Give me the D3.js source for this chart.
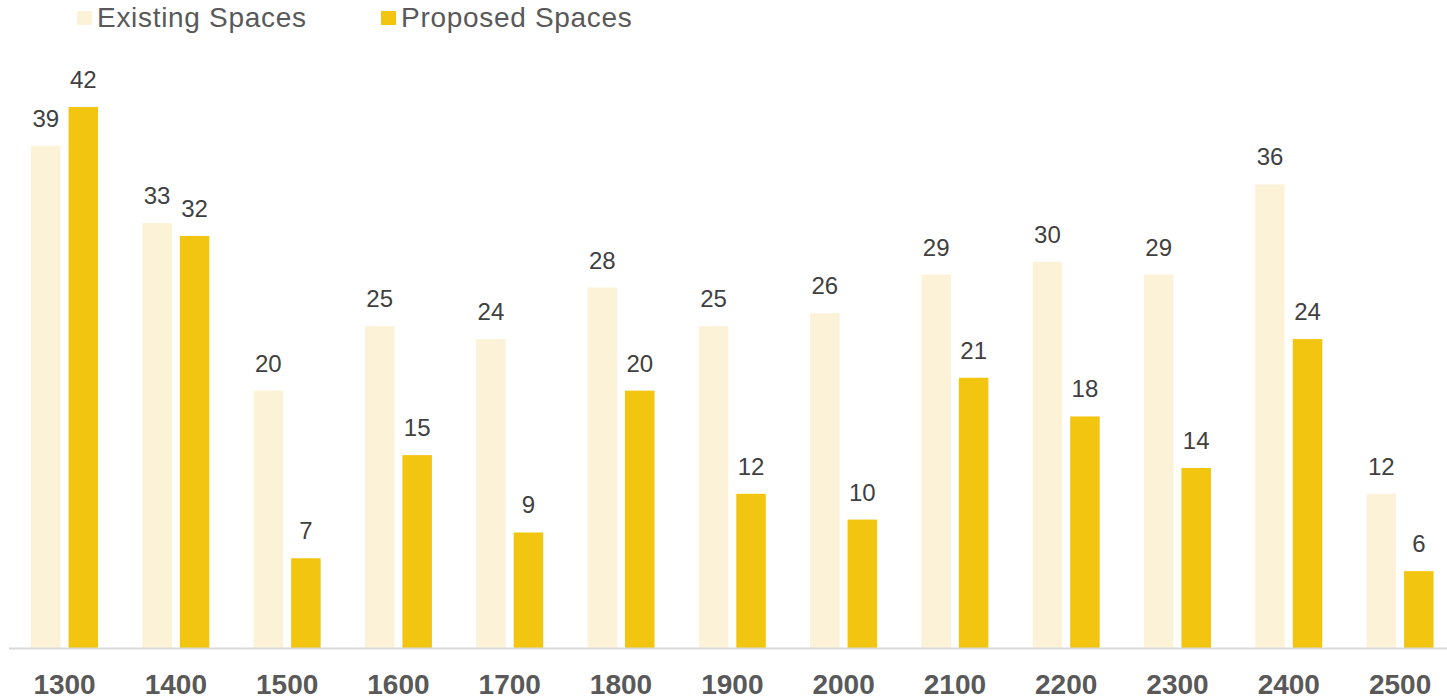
<!DOCTYPE html>
<html>
<head>
<meta charset="utf-8">
<script src="https://cdn.jsdelivr.net/npm/d3@7"></script>
<style>
  html, body { margin: 0; padding: 0; background: #ffffff; }
  svg { display: block; font-family: "Liberation Sans", Arial, sans-serif; }
</style>
</head>
<body>
<svg id="chart" width="1447" height="700"></svg>
<script>
// Floor numbers along the x axis
const categories = ["1300", "1400", "1500", "1600", "1700", "1800", "1900",
                    "2000", "2100", "2200", "2300", "2400", "2500"];
// Parking space counts per floor
const existingSpaces = [39, 33, 20, 25, 24, 28, 25, 26, 29, 30, 29, 36, 12];
const proposedSpaces = [42, 32, 7, 15, 9, 20, 12, 10, 21, 18, 14, 24, 6];
const seriesNames = ["Existing Spaces", "Proposed Spaces"];
const seriesColors = ["#FCF2D7", "#F2C511"];

const rows = categories.map((c, i) => ({
  category: c,
  values: [
    { key: seriesNames[0], value: existingSpaces[i] },
    { key: seriesNames[1], value: proposedSpaces[i] }
  ]
}));

const svg = d3.select("#chart");
const baseY = 648.5;

const x0 = d3.scaleBand()
  .domain(categories)
  .range([9, 1455.6])
  .paddingInner(0.398)
  .paddingOuter(0.198);

const x1 = d3.scaleBand()
  .domain(seriesNames)
  .range([0, x0.bandwidth()])
  .paddingInner(0.213);

const y = d3.scaleLinear()
  .domain([0, 42])
  .range([baseY, 107]);

const color = d3.scaleOrdinal().domain(seriesNames).range(seriesColors);

// Bars and value labels
const groups = svg.append("g")
  .selectAll("g")
  .data(rows)
  .join("g")
  .attr("transform", d => `translate(${x0(d.category)},0)`);

groups.selectAll("rect")
  .data(d => d.values)
  .join("rect")
  .attr("x", d => x1(d.key))
  .attr("y", d => y(d.value))
  .attr("width", x1.bandwidth())
  .attr("height", d => baseY - y(d.value))
  .attr("fill", d => color(d.key));

groups.selectAll("text")
  .data(d => d.values)
  .join("text")
  .attr("x", d => x1(d.key) + x1.bandwidth() / 2)
  .attr("y", d => y(d.value) - 19)
  .attr("text-anchor", "middle")
  .attr("font-size", 24)
  .attr("fill", "#404040")
  .text(d => d.value);

// Category axis
const xAxis = svg.append("g")
  .attr("transform", `translate(0,${baseY})`)
  .call(d3.axisBottom(x0).tickSize(0).tickPadding(0));
xAxis.select(".domain").remove();
xAxis.append("line")
  .attr("x1", 9).attr("x2", 1447)
  .attr("y1", 0).attr("y2", 0)
  .attr("stroke", "#d9d9d9")
  .attr("stroke-width", 2);
xAxis.selectAll(".tick text")
  .attr("dy", null)
  .attr("y", 45)
  .attr("font-size", 28)
  .attr("font-weight", "bold")
  .attr("font-family", "'Liberation Sans', Arial, sans-serif")
  .attr("fill", "#595959");

// Legend
const legendX = [77, 381];
const legend = svg.append("g")
  .selectAll("g")
  .data(seriesNames)
  .join("g")
  .attr("transform", (d, i) => `translate(${legendX[i]},0)`);
legend.append("rect")
  .attr("x", 0).attr("y", 11)
  .attr("width", 15).attr("height", 14)
  .attr("fill", d => color(d));
legend.append("text")
  .attr("x", 20).attr("y", 27)
  .attr("font-size", 28)
  .attr("letter-spacing", 0.7)
  .attr("fill", "#595959")
  .text(d => d);
</script>
</body>
</html>
